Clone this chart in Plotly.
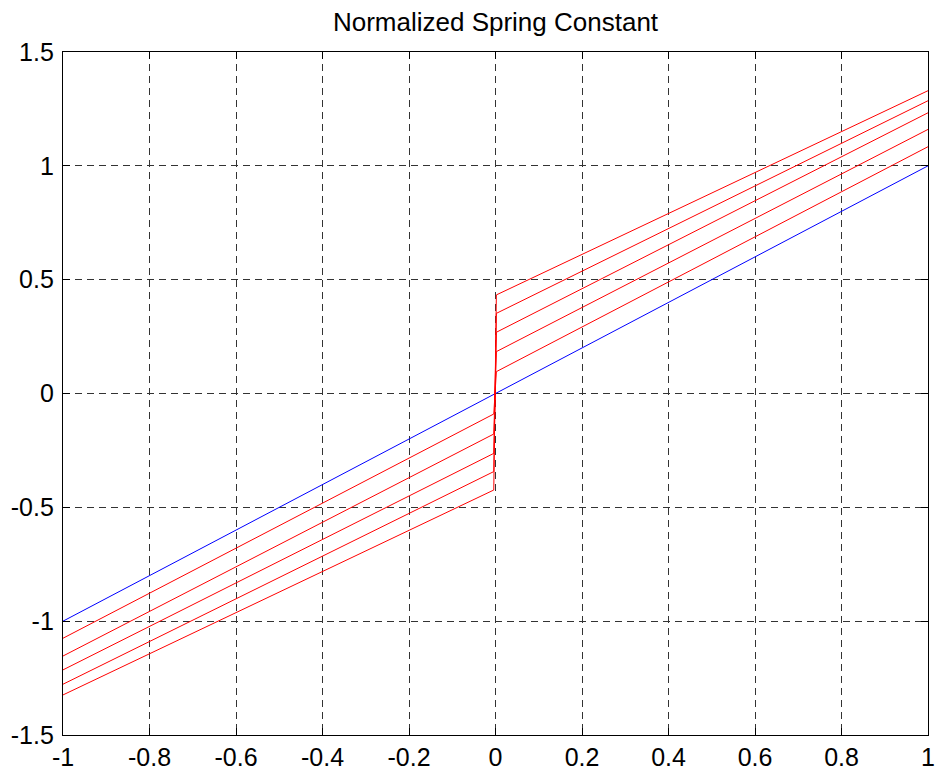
import plotly.graph_objects as go

# Reference line: normalized spring constant of the linear spring
blue_x = [-1.0, 1.0]
blue_y = [-1.0, 1.0]

# Preloaded springs: each curve jumps across x = 0
red_x = [-1.0, -0.004, 0.002, 1.0]
red_curves = [
    [-1.075, -0.090, 0.096, 1.084],
    [-1.153, -0.178, 0.184, 1.160],
    [-1.214, -0.263, 0.269, 1.233],
    [-1.277, -0.343, 0.352, 1.286],
    [-1.324, -0.424, 0.433, 1.330],
]

x_ticks = [-1, -0.8, -0.6, -0.4, -0.2, 0, 0.2, 0.4, 0.6, 0.8, 1]
x_tick_text = ["-1", "-0.8", "-0.6", "-0.4", "-0.2", "0", "0.2", "0.4", "0.6", "0.8", "1"]
y_ticks = [-1.5, -1, -0.5, 0, 0.5, 1, 1.5]
y_tick_text = ["-1.5", "-1", "-0.5", "0", "0.5", "1", "1.5"]

FONT = "Liberation Sans, Arial, Helvetica, sans-serif"

fig = go.Figure()
fig.add_trace(go.Scatter(x=blue_x, y=blue_y, mode="lines",
                         line=dict(color="#0000ff", width=1), showlegend=False))
for ys in red_curves:
    fig.add_trace(go.Scatter(x=red_x, y=ys, mode="lines",
                             line=dict(color="#ff0000", width=1), showlegend=False))

axis_common = dict(
    showline=True, linecolor="black", linewidth=1.3, mirror="ticks",
    ticks="inside", ticklen=7, tickcolor="black", tickwidth=1,
    showgrid=True, gridcolor="#333333", gridwidth=1, griddash="7px,5px",
    zeroline=False, automargin=False,
    tickfont=dict(family=FONT, size=25, color="black"),
)

fig.update_xaxes(range=[-1, 1], tickvals=x_ticks, ticktext=x_tick_text,
                 ticklabelstandoff=0, **axis_common)
fig.update_yaxes(range=[-1.5, 1.5], tickvals=y_ticks, ticktext=y_tick_text,
                 ticklabelstandoff=3, **axis_common)

fig.update_layout(
    width=935, height=770,
    margin=dict(l=63, r=7, t=52, b=35, autoexpand=False),
    paper_bgcolor="white", plot_bgcolor="white",
    title=dict(text="Normalized Spring Constant", x=0.5, xref="paper",
               y=1 - 22 / 770, yref="container", yanchor="middle", xanchor="center",
               font=dict(family=FONT, size=26, color="black")),
)

fig.write_html("out.html")
